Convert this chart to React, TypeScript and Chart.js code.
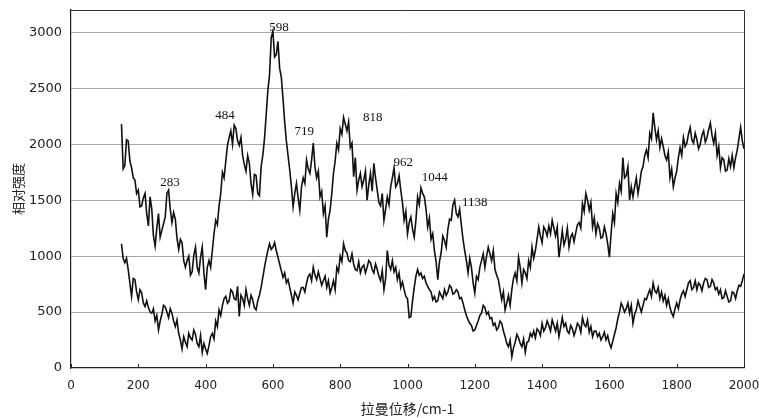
import React, { useEffect, useRef } from "react";
import { Chart, registerables } from "chart.js";

Chart.register(...registerables);

// Raman shift sampling grid (cm-1), 150 … 2000 every 5
const ramanShift: number[] = Array.from({ length: 371 }, (_, i) => 150 + i * 5);

// Upper spectrum (relative intensity)
const spectrumUpper: number[] = [
  2180, 1780, 1810, 2040, 2030, 1850, 1790, 1700, 1680, 1560,
  1590, 1440, 1450, 1520, 1560, 1380, 1270, 1530, 1420, 1180,
  1090, 1250, 1380, 1170, 1230, 1290, 1350, 1560, 1590, 1420,
  1300, 1390, 1330, 1160, 1060, 1150, 1120, 960, 900, 960,
  1000, 830, 860, 1010, 1080, 900, 850, 990, 1080, 850,
  700, 900, 960, 900, 1050, 1200, 1320, 1280, 1450, 1560,
  1750, 1700, 1850, 1990, 2060, 2120, 2000, 2170, 2140, 2030,
  1990, 2060, 1900, 1820, 1760, 1900, 1830, 1650, 1550, 1730,
  1720, 1560, 1540, 1800, 1900, 2050, 2260, 2480, 2620, 2950,
  3010, 2780, 2800, 2920, 2680, 2600, 2410, 2200, 2030, 1900,
  1770, 1620, 1440, 1560, 1650, 1520, 1410, 1620, 1700, 1650,
  1860, 1780, 1740, 1860, 2010, 1800, 1700, 1760, 1530, 1580,
  1380, 1450, 1170, 1330, 1410, 1560, 1740, 1850, 2010, 1950,
  2140, 2090, 2240, 2180, 2120, 2200, 1970, 2010, 1710, 1880,
  1590, 1680, 1740, 1620, 1680, 1760, 1500, 1640, 1740, 1580,
  1830, 1700, 1590, 1480, 1450, 1560, 1320, 1420, 1530, 1460,
  1620, 1700, 1790, 1620, 1650, 1720, 1590, 1480, 1320, 1400,
  1200, 1300, 1350, 1240, 1170, 1320, 1530, 1460, 1610, 1560,
  1530, 1420, 1260, 1340, 1150, 1200, 1050, 950, 790, 950,
  1030, 1180, 1140, 1080, 1240, 1330, 1320, 1460, 1500, 1380,
  1350, 1420, 1280, 1150, 1050, 960, 850, 980, 900, 760,
  670, 820, 790, 900, 960, 1020, 900, 1000, 1080, 1020,
  960, 1050, 880, 830, 790, 700, 610, 680, 520, 580,
  650, 560, 700, 800, 850, 780, 990, 900, 760, 880,
  850, 800, 960, 900, 1080, 980, 1050, 1150, 1260, 1180,
  1120, 1260, 1230, 1180, 1270, 1200, 1320, 1250, 1180, 1260,
  990, 1100, 1230, 1100, 1150, 1250, 1080, 1170, 1200, 1130,
  1210, 1280, 1300, 1250, 1470, 1400, 1560, 1500, 1410, 1480,
  1260, 1340, 1200, 1290, 1250, 1160, 1170, 1260, 1200, 1110,
  990, 1200, 1380, 1300, 1560, 1480, 1650, 1580, 1880, 1700,
  1720, 1800, 1500, 1620, 1530, 1620, 1700, 1560, 1650, 1760,
  1800, 1900, 1950, 1880, 2100, 2050, 2280, 2150, 2040, 2120,
  1970, 2050, 1980, 1900, 1860, 1930, 1700, 1780, 1620, 1700,
  1760, 1880, 1970, 1900, 2060, 1980, 2010, 2090, 2150, 2040,
  2010, 2100, 2040, 1960, 2000, 2080, 2120, 2020, 2060, 2130,
  2190, 2080, 2010, 2100, 1900, 1980, 1790, 1880, 1860, 1760,
  1770, 1870, 1800, 1900, 1790, 1880, 1950, 2050, 2150, 2030,
  1960,
];

// Lower spectrum (relative intensity)
const spectrumLower: number[] = [
  1110, 980, 940, 980, 880, 760, 640, 800, 790, 680,
  610, 700, 670, 580, 550, 600, 540, 500, 490, 530,
  420, 470, 340, 420, 480, 560, 545, 500, 450, 530,
  490, 420, 370, 430, 310, 250, 170, 280, 230, 190,
  310, 270, 250, 340, 300, 220, 190, 290, 140, 220,
  170, 130, 200, 280, 310, 260, 420, 370, 520, 470,
  560, 620, 640, 580, 600, 700, 680, 620, 610, 730,
  460, 650, 620, 560, 700, 620, 560, 650, 610, 540,
  520, 600, 650, 720, 810, 900, 980, 1050, 1110, 1060,
  1080, 1120, 1050, 990, 930, 870, 810, 850, 760, 790,
  720, 650, 580, 680, 650, 610, 670, 720, 720, 680,
  760, 820, 840, 780, 900, 830, 790, 860, 800, 740,
  780, 820, 720, 780, 670, 720, 780, 700, 900, 860,
  1000, 950, 1110, 1050, 1030, 960, 950, 1020, 930, 880,
  870, 950, 850, 900, 920, 850, 900, 960, 940, 880,
  850, 930, 880, 820, 780, 870, 700, 800, 1050, 920,
  880, 960, 860, 900, 790, 850, 720, 770, 700, 640,
  620, 450, 460, 600, 720, 820, 880, 830, 850, 800,
  820, 760, 730, 700, 680, 610, 640, 590, 600, 680,
  650, 620, 700, 650, 680, 740, 720, 660, 670, 700,
  680, 620, 630, 580, 520, 470, 430, 400, 380, 330,
  340, 380, 420, 470, 490, 560, 540, 480, 500, 440,
  450, 380, 400, 340, 360, 420, 400, 330, 280, 220,
  190, 250, 100, 180, 230, 300, 270, 220, 190, 260,
  140, 230, 240, 310, 280, 330, 270, 350, 330, 290,
  400, 330, 360, 420, 380, 330, 430, 380, 330, 400,
  280, 360, 450, 370, 400, 330, 310, 380, 350, 290,
  340, 400, 380, 320, 450, 390, 370, 430, 320, 370,
  280, 330, 330, 280, 310, 250, 280, 320, 250, 290,
  220, 180, 240, 300, 360, 440, 500, 580, 545, 500,
  530, 580, 490, 560, 400, 480, 520, 600, 550, 500,
  560, 620, 610, 660, 700, 640, 760, 690, 670, 720,
  620, 680, 600, 650, 560, 620, 540, 490, 460, 530,
  580, 530, 610, 660, 690, 640, 700, 760, 780, 700,
  720, 780, 700, 760, 740, 690, 760, 800, 790, 720,
  730, 790, 760, 700, 720, 660, 700, 620, 630, 690,
  640, 590, 600, 680, 670, 620, 690, 740, 730, 780,
  840,
];

// Peak annotations: text, label anchor (cm-1, intensity)
const peakLabels: string[] = ["283", "484", "598", "719", "818", "962", "1044", "1138"];
const peakLabelX: number[] = [294, 458, 618, 693, 897, 987, 1081, 1200];
const peakLabelY: number[] = [1660, 2260, 3045, 2110, 2240, 1840, 1705, 1482];

const xTickValues: number[] = [0, 200, 400, 600, 800, 1000, 1200, 1400, 1600, 1800, 2000];
const yTickValues: number[] = [0, 500, 1000, 1500, 2000, 2500, 3000];

const xTitle = "拉曼位移/cm-1";
const yTitle = "相对强度";

const framePlugin = {
  id: "frame",
  afterDraw(chart: any) {
    const { ctx, chartArea, scales } = chart;
    ctx.save();
    ctx.setLineDash([]);
    ctx.globalAlpha = 1;
    // top and right border
    ctx.strokeStyle = "#333333";
    ctx.lineWidth = 1;
    ctx.beginPath();
    ctx.moveTo(Math.round(chartArea.left), Math.round(chartArea.top) + 0.5);
    ctx.lineTo(Math.round(chartArea.right) + 0.5, Math.round(chartArea.top) + 0.5);
    ctx.lineTo(Math.round(chartArea.right) + 0.5, Math.round(chartArea.bottom));
    ctx.stroke();
    // inner tick marks on x axis
    ctx.strokeStyle = "#222222";
    ctx.beginPath();
    xTickValues.forEach((v) => {
      const px = Math.round(scales.x.getPixelForValue(v)) + 0.5;
      ctx.moveTo(px, chartArea.bottom);
      ctx.lineTo(px, chartArea.bottom - 4);
    });
    ctx.stroke();
    // peak labels
    ctx.fillStyle = "#111111";
    ctx.font = "13px 'Liberation Serif', serif";
    ctx.textAlign = "center";
    ctx.textBaseline = "middle";
    peakLabels.forEach((t, i) => {
      ctx.fillText(t, scales.x.getPixelForValue(peakLabelX[i]), scales.y.getPixelForValue(peakLabelY[i]));
    });
    ctx.restore();
  },
};

export default function App() {
  const ref = useRef<HTMLCanvasElement | null>(null);
  useEffect(() => {
    if (!ref.current) return;
    const chart = new Chart(ref.current, {
      type: "line",
      data: {
        datasets: [
          {
            data: ramanShift.map((x, i) => ({ x, y: spectrumUpper[i] })),
            borderColor: "#111",
            borderWidth: 1.6,
            pointRadius: 0,
            tension: 0,
            fill: false,
          },
          {
            data: ramanShift.map((x, i) => ({ x, y: spectrumLower[i] })),
            borderColor: "#111",
            borderWidth: 1.6,
            pointRadius: 0,
            tension: 0,
            fill: false,
          },
        ],
      },
      options: {
        animation: false,
        responsive: false,
        maintainAspectRatio: false,
        layout: { padding: { left: 0, right: 15, top: 10, bottom: 0 } },
        plugins: { legend: { display: false }, tooltip: { enabled: false } },
        scales: {
          x: {
            type: "linear",
            min: 0,
            max: 2000,
            afterBuildTicks: (axis: any) => {
              axis.ticks = xTickValues.map((v) => ({ value: v }));
            },
            afterFit: (s: any) => {
              s.height = 50;
              s.paddingLeft = 0;
              s.paddingRight = 0;
            },
            grid: { drawOnChartArea: false, color: "transparent", tickColor: "transparent", tickLength: 8 },
            border: { display: true, color: "#222", width: 1.2 },
            ticks: {
              color: "#222",
              padding: 3,
              maxRotation: 0,
              callback: (v: any) => String(v),
              font: { family: "'DejaVu Sans', sans-serif", size: 12 },
            },
            title: {
              display: true,
              text: xTitle,
              color: "#222",
              font: { family: "'Noto Sans CJK SC', sans-serif", size: 14 },
              padding: { top: 0, bottom: 1 },
            },
          },
          y: {
            type: "linear",
            min: 0,
            max: 3200,
            afterBuildTicks: (axis: any) => {
              axis.ticks = yTickValues.map((v) => ({ value: v }));
            },
            afterFit: (s: any) => {
              s.width = 71;
              s.paddingTop = 0;
              s.paddingBottom = 0;
            },
            grid: {
              color: (c: any) => (c.tick && c.tick.value === 0 ? "transparent" : "#a8a8a8"),
              lineWidth: 1,
              tickColor: "transparent",
              tickLength: 8,
            },
            border: { display: true, color: "#222", width: 1.2 },
            ticks: {
              color: "#222",
              padding: 1,
              callback: (v: any) => String(v),
              font: { family: "'DejaVu Sans', sans-serif", size: 13 },
            },
            title: {
              display: true,
              text: yTitle,
              color: "#222",
              font: { family: "'Noto Sans CJK SC', sans-serif", size: 13 },
              padding: { top: 10, bottom: 0 },
            },
          },
        },
      },
      plugins: [framePlugin],
    });
    return () => chart.destroy();
  }, []);
  return (
    <div style={{ position: "absolute", left: 0, top: 0, width: 759, height: 418, background: "#fff" }}>
      <canvas ref={ref} width={759} height={418} style={{ width: 759, height: 418 }} />
    </div>
  );
}
